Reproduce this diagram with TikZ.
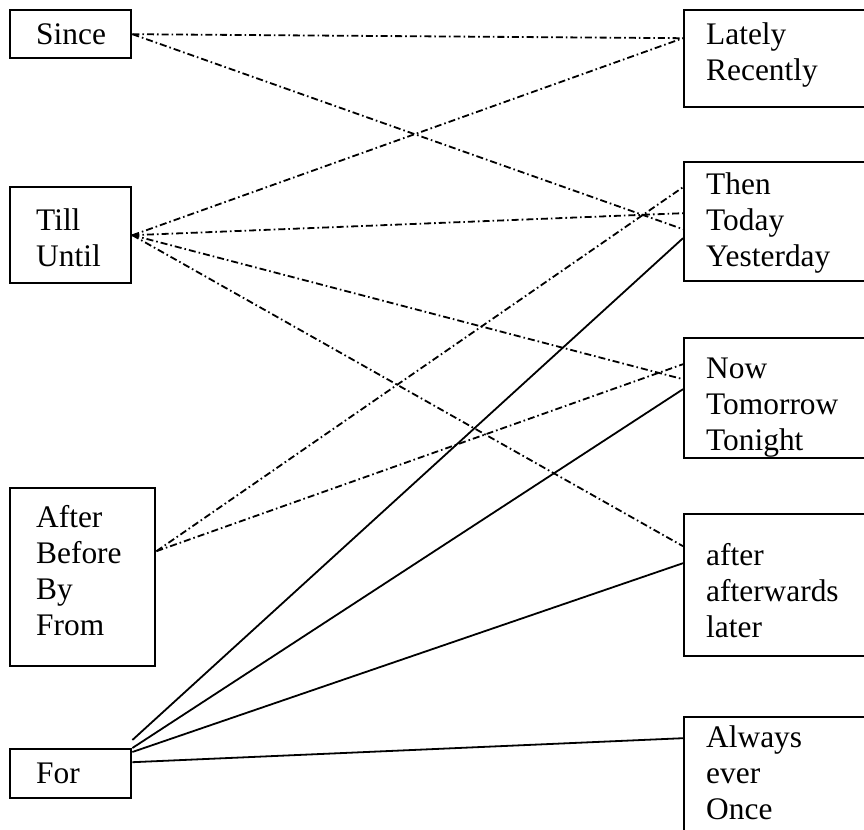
\documentclass[tikz,border=0pt]{standalone}
\usepackage{fontspec}
\setmainfont{Liberation Serif}
\usetikzlibrary{positioning}
\tikzset{
  boite/.style={draw,line width=1.2pt,anchor=north west,inner sep=0pt,align=left,
    font=\fontsize{15.7}{18}\selectfont},
  gauche/.style={boite,text width=34.5pt,minimum width=60.5pt},
  droite/.style={boite,text width=78pt,minimum width=100pt},
  tiret/.style={line width=0.9pt,dash pattern=on 3.5pt off 1.5pt on 0.8pt off 1.5pt},
  plein/.style={line width=0.9pt},
}
\begin{document}
\begin{tikzpicture}[x=0.5pt,y=-0.5pt]
  \useasboundingbox (0,0) rectangle (864,830);
  \clip (0,0) rectangle (864,830);
  % colonne de gauche
  \node[gauche,minimum height=24pt] (since) at (9,9) {Since};
  \node[gauche,minimum height=48pt,text height=13.6pt] (till) at (9,186) {Till\\Until};
  \node[gauche,text width=46.5pt,minimum width=72.5pt,minimum height=89pt,text height=4.6pt] (after) at (9,487) {After\\Before\\By\\From};
  \node[gauche,minimum height=24.5pt] (for) at (9,748) {For};
  % colonne de droite
  \node[droite,minimum height=48.5pt,text height=7.6pt] (lately) at (683,9) {Lately\\Recently};
  \node[droite,minimum height=59.5pt,text height=12.6pt] (then) at (683,161) {Then\\Today\\Yesterday};
  \node[droite,minimum height=60pt,text height=19.3pt] (now) at (683,337) {Now\\Tomorrow\\Tonight};
  \node[droite,minimum height=71pt,text height=16.6pt] (later) at (683,513) {after\\afterwards\\later};
  \node[droite,minimum height=64.5pt,text height=1.6pt] (always) at (683,716) {Always\\ever\\Once};
  % liens pointillés
  \draw[tiret] (since.east) -- ([yshift=10.25pt]lately.west);
  \draw[tiret] (since.east) -- ([yshift=-3.75pt]then.west);
  \draw[tiret] (till.east) -- ([yshift=10.25pt]lately.west);
  \draw[tiret] (till.east) -- ([yshift=4.25pt]then.west);
  \draw[tiret] (till.east) -- ([yshift=9.5pt]now.west);
  \draw[tiret] (till.east) -- ([yshift=19.5pt]later.west);
  \draw[tiret] ([yshift=13pt]after.east) -- ([yshift=17.25pt]then.west);
  \draw[tiret] ([yshift=13pt]after.east) -- ([yshift=17pt]now.west);
  % liens pleins
  \draw[plein] ([yshift=4pt]for.north east) -- ([yshift=-8.25pt]then.west);
  \draw[plein] (for.north east) -- ([yshift=4.5pt]now.west);
  \draw[plein] ([yshift=-2pt]for.north east) -- ([yshift=11pt]later.west);
  \draw[plein] ([yshift=5.75pt]for.east) -- ([yshift=21.75pt]always.west);
\end{tikzpicture}
\end{document}
